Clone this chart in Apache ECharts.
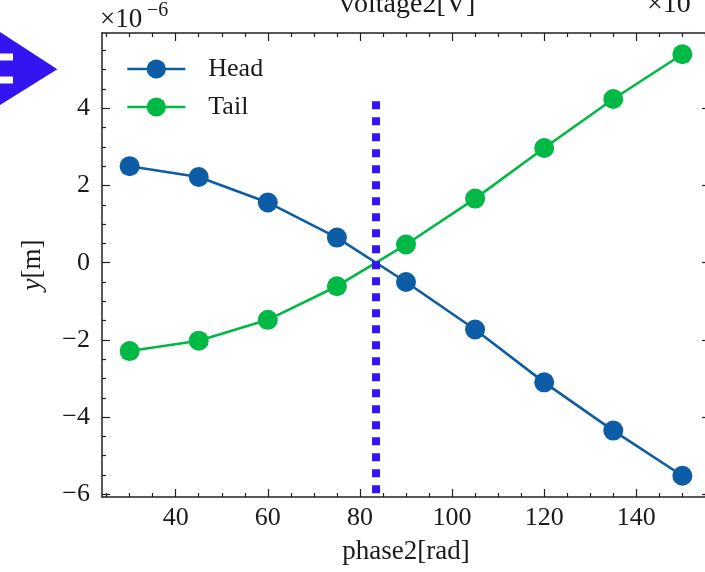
<!DOCTYPE html>
<html>
<head>
<meta charset="utf-8">
<script src="https://cdn.jsdelivr.net/npm/echarts@6/dist/echarts.min.js"></script>
<style>
html,body{margin:0;padding:0;background:#fff;}
#chart{width:705px;height:572px;}
</style>
</head>
<body>
<div id="chart"></div>
<script>
// x values: phase2 [rad]
var phase = [30, 45, 60, 75, 90, 105, 120, 135, 150];
// y values in units of 1e-6 m
var head = [2.50, 2.22, 1.56, 0.65, -0.50, -1.73, -3.10, -4.35, -5.52];
var tail = [-2.29, -2.02, -1.48, -0.61, 0.47, 1.66, 2.97, 4.24, 5.40];
// vertical marker line (x, y from, y to)
var markerX = 83.5;
var markerY = [4.18, -5.98];
// ticks
var xMajor = [40, 60, 80, 100, 120, 140];
var xMinor = [25, 30, 35, 45, 50, 55, 65, 70, 75, 85, 90, 95, 105, 110, 115, 125, 130, 135, 145, 150, 155];
var yMajor = [-6, -4, -2, 0, 2, 4];
var yMinor = [-5.5, -5, -4.5, -3.5, -3, -2.5, -1.5, -1, -0.5, 0.5, 1, 1.5, 2.5, 3, 3.5, 4.5, 5, 5.5];
var seriesNames = ['Head', 'Tail'];

var XMIN = 24, XMAX = 156, YMIN = -6.07, YMAX = 5.95;
var FONT = 'Liberation Serif';
var TXT = '#1a1a1a';
var BLUE = '#0C5DA5', GREEN = '#00B945', VIOLET = '#3414f0';

function pairs(xs, ys) { return xs.map(function (x, i) { return [x, ys[i]]; }); }
function fmt(v) { return v < 0 ? '\u2212' + Math.abs(v) : String(v); }

function xAx(pos, ticks, len, withLine, withLabel) {
  var a = {
    type: 'value', position: pos, min: XMIN, max: XMAX,
    axisLine: { show: withLine, onZero: false, lineStyle: { color: '#222', width: 1.5 } },
    axisTick: { show: true, inside: true, length: len, customValues: ticks, lineStyle: { color: '#222', width: 1.2 } },
    axisLabel: { show: withLabel, customValues: ticks, margin: 8, fontFamily: FONT, fontSize: 26, color: TXT },
    splitLine: { show: false }
  };
  if (withLabel) {
    a.name = 'phase2[rad]';
    a.nameLocation = 'middle';
    a.nameGap = 41;
    a.nameTextStyle = { fontFamily: FONT, fontSize: 27, color: TXT };
  }
  return a;
}
function yAx(pos, ticks, len, withLine, withLabel) {
  var a = {
    type: 'value', position: pos, min: YMIN, max: YMAX,
    axisLine: { show: withLine, onZero: false, lineStyle: { color: '#222', width: 1.5 } },
    axisTick: { show: true, inside: true, length: len, customValues: ticks, lineStyle: { color: '#222', width: 1.2 } },
    axisLabel: { show: withLabel, customValues: ticks, margin: 12, fontFamily: FONT, fontSize: 26, color: TXT, formatter: fmt },
    splitLine: { show: false }
  };
  if (withLabel) {
    a.name = '{i|y}[m]';
    a.nameLocation = 'middle';
    a.nameGap = 56;
    a.nameRotate = 90;
    a.nameTextStyle = { fontFamily: FONT, fontSize: 27, color: TXT,
      rich: { i: { fontFamily: FONT, fontSize: 27, fontStyle: 'italic', color: TXT } } };
  }
  return a;
}

var chart = echarts.init(document.getElementById('chart'), null, { renderer: 'canvas' });
chart.setOption({
  animation: false,
  backgroundColor: '#fff',
  grid: { left: 102, top: 33, width: 608, bottom: 75, containLabel: false, outerBoundsMode: 'none' },
  xAxis: [
    xAx('bottom', xMajor, 8, true, true),
    xAx('bottom', xMinor, 4, false, false),
    xAx('top', xMajor, 8, true, false),
    xAx('top', xMinor, 4, false, false)
  ],
  yAxis: [
    yAx('left', yMajor, 8, true, true),
    yAx('left', yMinor, 4, false, false),
    yAx('right', yMajor, 8, true, false),
    yAx('right', yMinor, 4, false, false)
  ],
  legend: {
    data: seriesNames,
    orient: 'vertical',
    left: 126, top: 56, padding: 0,
    itemWidth: 58, itemHeight: 24, itemGap: 12,
    lineStyle: { width: 2.6 },
    textStyle: { fontFamily: FONT, fontSize: 26, color: TXT, padding: [0, 0, 0, 18] }
  },
  series: [
    {
      name: seriesNames[0], type: 'line', data: pairs(phase, head),
      symbol: 'circle', symbolSize: 20,
      lineStyle: { color: BLUE, width: 2.6 }, itemStyle: { color: BLUE }, z: 3
    },
    {
      name: seriesNames[1], type: 'line', data: pairs(phase, tail),
      symbol: 'circle', symbolSize: 20,
      lineStyle: { color: GREEN, width: 2.6 }, itemStyle: { color: GREEN }, z: 3
    },
    {
      name: 'marker', type: 'line', data: [[markerX, markerY[0]], [markerX, markerY[1]]],
      symbol: 'none', silent: true,
      lineStyle: { color: VIOLET, width: 8, type: [8, 8], cap: 'butt' }, z: 4
    }
  ],
  graphic: [
    { type: 'polygon', shape: { points: [[0, 32], [57.3, 69.3], [0, 105]] }, style: { fill: VIOLET } },
    { type: 'rect', shape: { x: 0, y: 53.5, width: 13, height: 7 }, style: { fill: '#fff' } },
    { type: 'rect', shape: { x: 0, y: 76.5, width: 13, height: 7 }, style: { fill: '#fff' } },
    { type: 'text', x: 100, y: 33, style: { text: '\u00d710', font: '27px "Liberation Serif"', fill: TXT, textVerticalAlign: 'bottom' } },
    { type: 'text', x: 147, y: 21, style: { text: '\u22126', font: '20px "Liberation Serif"', fill: TXT, textVerticalAlign: 'bottom' } },
    { type: 'text', x: 340, y: 19, style: { text: 'voltage2[V]', font: '28px "Liberation Serif"', fill: TXT, textVerticalAlign: 'bottom' } },
    { type: 'text', x: 647, y: 19, style: { text: '\u00d710', font: '28px "Liberation Serif"', fill: TXT, textVerticalAlign: 'bottom' } }
  ]
});
</script>
</body>
</html>
